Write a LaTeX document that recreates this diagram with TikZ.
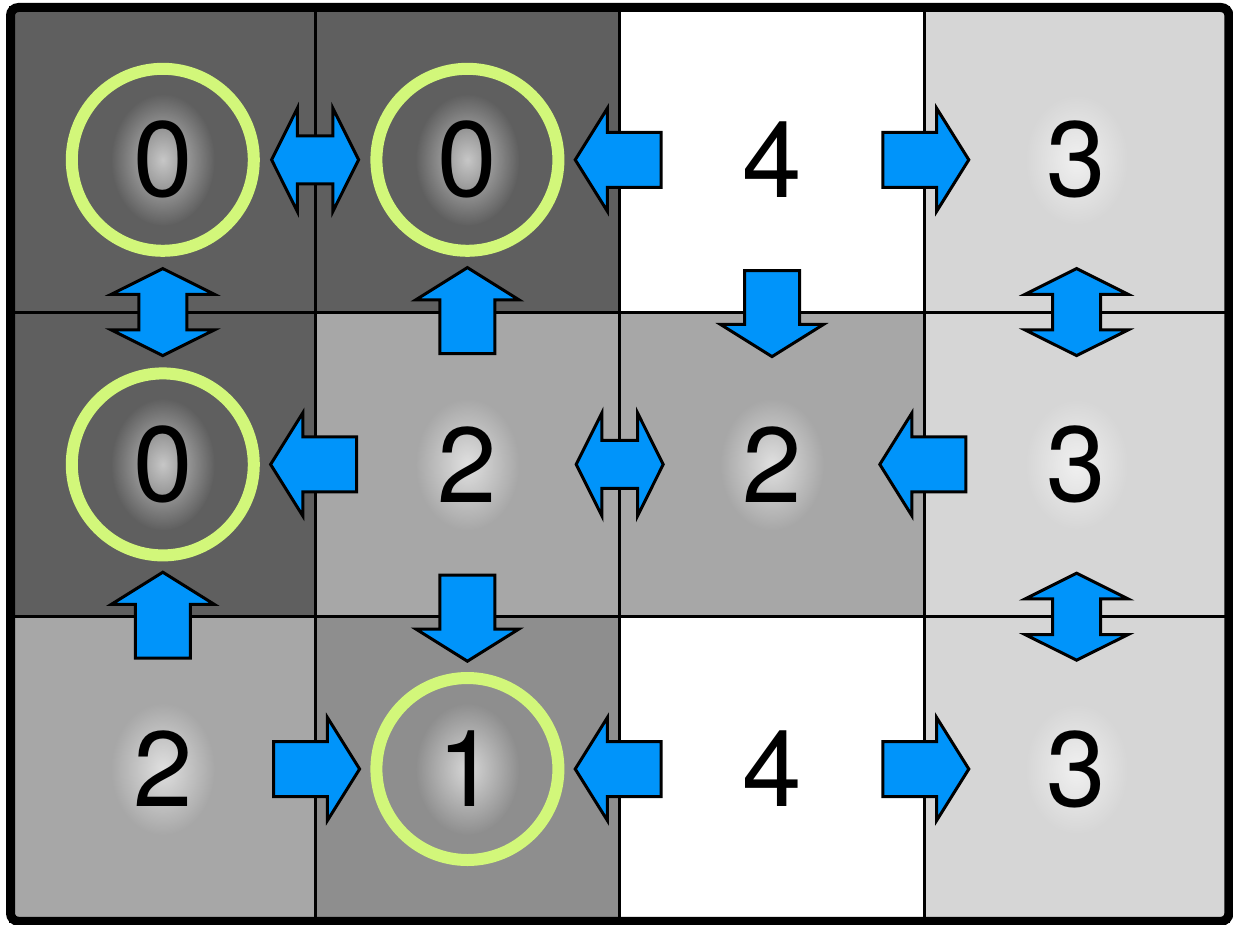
\documentclass[tikz,border=0pt]{standalone}
\usepackage{fontspec}
\setmainfont{TeX Gyre Heros}
\usetikzlibrary{positioning, shapes.arrows, fadings}

\definecolor{darkcell}{HTML}{5F5F5F}
\definecolor{midcell}{HTML}{A7A7A7}
\definecolor{deepcell}{HTML}{8E8E8E}
\definecolor{lightcell}{HTML}{D6D6D6}
\definecolor{ringgreen}{RGB}{210,247,122}
\definecolor{flowblue}{RGB}{0,148,250}

\tikzfading[name=soft halo, inner color=transparent!35, outer color=transparent!100]

\begin{document}
\begin{tikzpicture}[
  cell/.style={
    rectangle,
    draw=black,
    line width=0.03cm,
    minimum size=3.046cm,
    inner sep=0pt,
    outer sep=0pt
  },
  digit/.style={
    inner sep=0pt,
    font=\fontsize{30.4}{36}\selectfont
  },
  halo/.style={
    fill=white,
    path fading=soft halo
  },
  ring/.style={
    circle,
    draw=ringgreen,
    line width=0.12cm,
    minimum size=1.82cm,
    inner sep=0pt
  },
  push/.style={
    single arrow,
    draw=black,
    fill=flowblue,
    line width=0.03cm,
    inner sep=0.26cm,
    minimum height=0.86cm,
    single arrow head extend=0.24cm,
    single arrow tip angle=116,
    single arrow head indent=0pt,
    anchor=tail
  },
  swap/.style={
    double arrow,
    draw=black,
    fill=flowblue,
    line width=0.03cm,
    inner sep=0.225cm,
    minimum height=0.87cm,
    double arrow head extend=0.275cm,
    double arrow tip angle=127,
    double arrow head indent=0pt
  },
  node distance=0cm
]
\useasboundingbox (0,0) rectangle (12.33,-9.24);

% grid of cells
\node[cell, fill=darkcell] (c11) at (1.628,-1.598) {};
\node[cell, fill=darkcell, right=of c11] (c12) {};
\node[cell, fill=white, right=of c12] (c13) {};
\node[cell, fill=lightcell, right=of c13] (c14) {};
\node[cell, fill=darkcell, below=of c11] (c21) {};
\node[cell, fill=midcell, right=of c21] (c22) {};
\node[cell, fill=midcell, right=of c22] (c23) {};
\node[cell, fill=lightcell, right=of c23] (c24) {};
\node[cell, fill=midcell, below=of c21] (c31) {};
\node[cell, fill=deepcell, right=of c31] (c32) {};
\node[cell, fill=white, right=of c32] (c33) {};
\node[cell, fill=lightcell, right=of c33] (c34) {};

% numbers with a soft halo
\foreach \cellname/\num in {c11/0, c12/0, c13/4, c14/3, c21/0, c22/2, c23/2, c24/3, c31/2, c32/1, c33/4, c34/3} {
  \fill[halo] (\cellname) ellipse [x radius=0.52cm, y radius=0.66cm];
  \node[digit] (n-\cellname) at (\cellname) {\num};
}

% marked cells
\foreach \cellname in {c11, c12, c21, c32}
  \node[ring] (r-\cellname) at (\cellname) {};

% flow between cells
\node[swap] (s1) at (c11.east) {};
\node[push, shape border rotate=180] (p1) at ([xshift=0.43cm]c13.west) {};
\node[push] (p2) at ([xshift=-0.43cm]c13.east) {};
\node[swap, shape border rotate=90] (s2) at (c11.south) {};
\node[push, shape border rotate=90] (p3) at ([yshift=-0.43cm]c12.south) {};
\node[push, shape border rotate=270] (p4) at ([yshift=0.43cm]c13.south) {};
\node[swap, shape border rotate=90] (s3) at (c14.south) {};
\node[push, shape border rotate=180] (p5) at ([xshift=0.43cm]c22.west) {};
\node[swap] (s4) at (c22.east) {};
\node[push, shape border rotate=180] (p6) at ([xshift=0.43cm]c24.west) {};
\node[push, shape border rotate=90] (p7) at ([yshift=-0.43cm]c21.south) {};
\node[push, shape border rotate=270] (p8) at ([yshift=0.43cm]c22.south) {};
\node[swap, shape border rotate=90] (s5) at (c24.south) {};
\node[push] (p9) at ([xshift=-0.43cm]c32.west) {};
\node[push, shape border rotate=180] (p10) at ([xshift=0.43cm]c33.west) {};
\node[push] (p11) at ([xshift=-0.43cm]c33.east) {};

% outer frame
\draw[line width=0.09cm, rounded corners=0.08cm] (c11.north west) rectangle (c34.south east);

\end{tikzpicture}
\end{document}
